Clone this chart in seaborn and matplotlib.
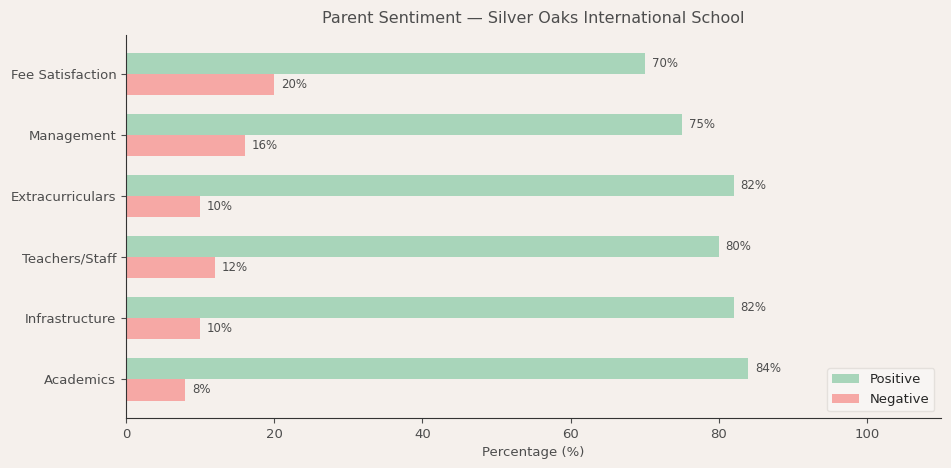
import pandas as pd
import matplotlib.pyplot as plt
import seaborn as sns

categories = ['Fee Satisfaction', 'Management', 'Extracurriculars',
              'Teachers/Staff', 'Infrastructure', 'Academics']
positive = [70, 75, 82, 80, 82, 84]
negative = [20, 16, 10, 12, 10, 8]

df = pd.DataFrame({
    'aspect': categories * 2,
    'pct': positive + negative,
    'sentiment': ['Positive'] * len(categories) + ['Negative'] * len(categories),
})

bg = '#f5f0ec'
txt = '#4d4d4d'
sns.set_style('ticks')
plt.rcParams['font.family'] = ['DejaVu Sans']

fig = plt.figure(figsize=(9.51, 4.68), dpi=100, facecolor=bg)
ax = fig.add_axes([0.1325, 0.107, 0.857, 0.818])
ax.set_facecolor(bg)

sns.barplot(data=df, y='aspect', x='pct', hue='sentiment', order=categories,
            hue_order=['Positive', 'Negative'],
            palette={'Positive': '#a8d5ba', 'Negative': '#f6a8a5'},
            width=0.7, orient='h', saturation=1, linewidth=0, ax=ax)

for cont in ax.containers:
    ax.bar_label(cont, fmt='%d%%', padding=5, fontsize=8.5, color=txt)

ax.set_xlim(0, 110)
ax.set_ylim(len(categories) - 1 + 0.635, -0.635)
ax.set_title('Parent Sentiment — Silver Oaks International School',
             fontsize=11.5, color=txt, pad=9)
ax.set_xlabel('Percentage (%)', fontsize=9.5, color=txt)
ax.set_ylabel('')
ax.tick_params(colors=txt, labelsize=9.5)
for s in ['top', 'right']:
    ax.spines[s].set_visible(False)
for s in ['left', 'bottom']:
    ax.spines[s].set_color('#333333')
    ax.spines[s].set_linewidth(0.8)

leg = ax.legend(loc='lower right', fontsize=9.5, title=None, frameon=True)
leg.get_frame().set_facecolor('#faf7f5')
leg.get_frame().set_edgecolor('#e0dcd8')

fig.savefig('out.png', dpi=100, facecolor=bg)
